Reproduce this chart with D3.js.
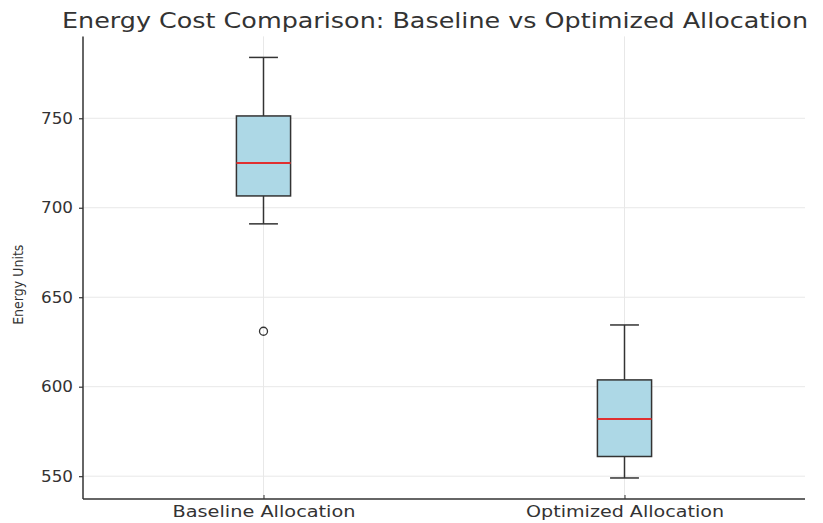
<!DOCTYPE html>
<html>
<head>
<meta charset="utf-8">
<script src="https://cdn.jsdelivr.net/npm/d3@7"></script>
<style>
  html, body { margin: 0; padding: 0; background: #fff; }
  svg { display: block; }
  text { font-family: "DejaVu Sans", sans-serif; }
</style>
</head>
<body>
<svg id="chart" width="823" height="523"></svg>
<script>
const categories = ["Baseline Allocation", "Optimized Allocation"];
const positions = [1, 2];
const whiskerLow = [691, 549];
const q1Values = [706.6, 561];
const medianValues = [725, 582];
const q3Values = [751.3, 603.8];
const whiskerHigh = [784, 634.5];
const outliers = [[631], []];
const yTicks = [550, 600, 650, 700, 750];

(function () {
const svg = d3.select("#chart");
const mLeft = 83, mRight = 805, mTop = 36.4, mBottom = 499;

const x = d3.scaleLinear().domain([0.5, 2.5]).range([mLeft, mRight]);
const y = d3.scaleLinear().domain([537.25, 795.75]).range([mBottom, mTop]);

const textColor = "#333";
const gridColor = "#e8e8e8";

// grid
const grid = svg.append("g");
grid.selectAll("line.h").data(yTicks).enter().append("line")
  .attr("x1", mLeft).attr("x2", mRight)
  .attr("y1", d => y(d)).attr("y2", d => y(d))
  .attr("stroke", gridColor).attr("stroke-width", 1);
grid.selectAll("line.v").data(positions).enter().append("line")
  .attr("x1", d => x(d)).attr("x2", d => x(d))
  .attr("y1", mTop).attr("y2", mBottom)
  .attr("stroke", gridColor).attr("stroke-width", 1);

// axes
const yAxis = d3.axisLeft(y).tickValues(yTicks).tickSize(4).tickPadding(6).tickFormat(d3.format("d"));
const gy = svg.append("g").attr("transform", `translate(${mLeft},0)`).call(yAxis);
gy.select(".domain").attr("stroke", textColor).attr("stroke-width", 1.5).attr("d", `M0,${mTop}V${mBottom}`);
gy.selectAll(".tick line").attr("stroke", textColor).attr("stroke-width", 1.2);
gy.selectAll(".tick text").attr("fill", textColor).style("font-size", "16px").style("font-family", "DejaVu Sans")
  .attr("textLength", 32).attr("lengthAdjust", "spacingAndGlyphs");

const xLabelWidths = [183, 198];
const xAxis = d3.axisBottom(x).tickValues(positions).tickSize(4).tickPadding(3)
  .tickFormat((d, i) => categories[i]);
const gx = svg.append("g").attr("transform", `translate(0,${mBottom})`).call(xAxis);
gx.select(".domain").attr("stroke", textColor).attr("stroke-width", 1.5).attr("d", `M${mLeft},0H${mRight}`);
gx.selectAll(".tick line").attr("stroke", textColor).attr("stroke-width", 1).attr("y2", -4);
gx.selectAll(".tick text").attr("fill", textColor).style("font-size", "16px").style("font-family", "DejaVu Sans")
  .attr("textLength", (d, i) => xLabelWidths[i]).attr("lengthAdjust", "spacingAndGlyphs");

// boxes
const boxW = x(1.075) - x(0.925);
const capW = x(1.04) - x(0.96);
const stroke = "#333";
const g = svg.append("g");
positions.forEach((p, i) => {
  const cx = x(p);
  g.append("line").attr("x1", cx).attr("x2", cx).attr("y1", y(q3Values[i])).attr("y2", y(whiskerHigh[i]))
    .attr("stroke", stroke).attr("stroke-width", 1.5);
  g.append("line").attr("x1", cx).attr("x2", cx).attr("y1", y(q1Values[i])).attr("y2", y(whiskerLow[i]))
    .attr("stroke", stroke).attr("stroke-width", 1.5);
  g.append("line").attr("x1", cx - capW / 2).attr("x2", cx + capW / 2)
    .attr("y1", y(whiskerHigh[i])).attr("y2", y(whiskerHigh[i])).attr("stroke", stroke).attr("stroke-width", 1.5);
  g.append("line").attr("x1", cx - capW / 2).attr("x2", cx + capW / 2)
    .attr("y1", y(whiskerLow[i])).attr("y2", y(whiskerLow[i])).attr("stroke", stroke).attr("stroke-width", 1.5);
  g.append("rect").attr("x", cx - boxW / 2).attr("width", boxW)
    .attr("y", y(q3Values[i])).attr("height", y(q1Values[i]) - y(q3Values[i]))
    .attr("fill", "#add8e6").attr("stroke", stroke).attr("stroke-width", 1.5);
  g.append("line").attr("x1", cx - boxW / 2).attr("x2", cx + boxW / 2)
    .attr("y1", y(medianValues[i])).attr("y2", y(medianValues[i]))
    .attr("stroke", "#e03030").attr("stroke-width", 2);
  g.selectAll(null).data(outliers[i]).enter().append("circle")
    .attr("cx", cx).attr("cy", d => y(d)).attr("r", 4)
    .attr("fill", "none").attr("stroke", stroke).attr("stroke-width", 1.3);
});

// title
svg.append("text").attr("x", 435).attr("y", 28)
  .attr("text-anchor", "middle").attr("fill", textColor)
  .style("font-size", "22px")
  .attr("textLength", 746).attr("lengthAdjust", "spacingAndGlyphs")
  .text("Energy Cost Comparison: Baseline vs Optimized Allocation");

// y label
svg.append("text").attr("transform", `translate(23,${(mTop + mBottom) / 2 + 17}) rotate(-90)`)
  .attr("text-anchor", "middle").attr("fill", textColor)
  .style("font-family", "'DejaVu Sans Condensed', 'Liberation Sans Narrow', sans-serif")
  .style("font-size", "14px").text("Energy Units");
})();
</script>
</body>
</html>
